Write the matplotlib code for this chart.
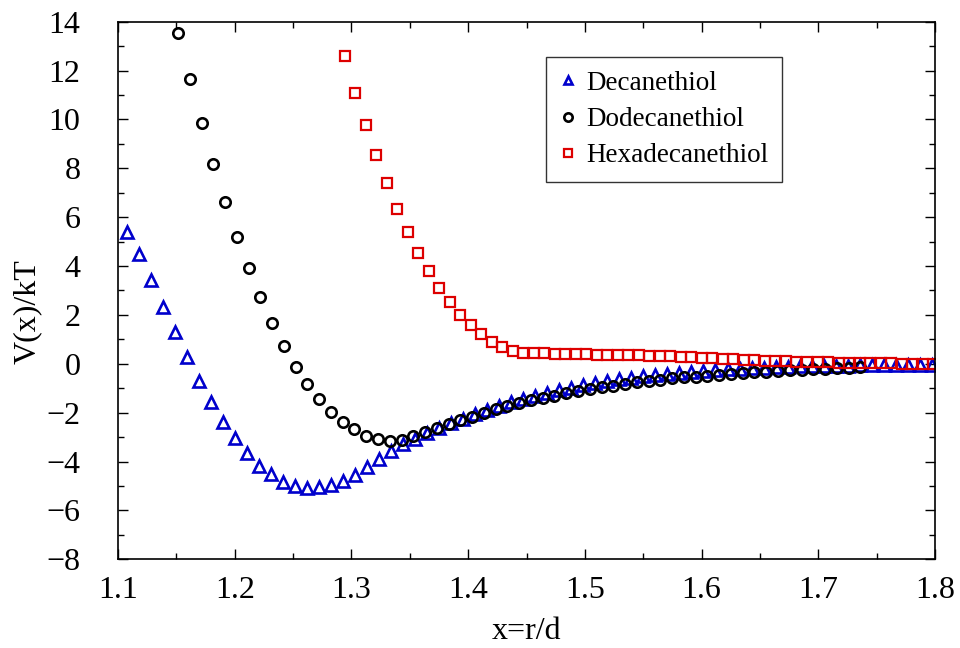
import numpy as np
import matplotlib
matplotlib.use("Agg")
import matplotlib.pyplot as plt
from matplotlib.ticker import MultipleLocator

# x = r/d sampling grid of each series (start, step)
deca_x0, deca_dx = 1.1077, 0.01029
dodeca_x0, dodeca_dx = 1.1514, 0.01008
hexa_x0, hexa_dx = 1.2943, 0.0090

# V(x)/kT
deca_v = [5.38, 4.49, 3.45, 2.34, 1.29, 0.27, -0.70, -1.58, -2.37, -3.05,
          -3.66, -4.17, -4.52, -4.82, -4.99, -5.09, -5.05, -4.96, -4.78, -4.55,
          -4.21, -3.91, -3.55, -3.30, -3.06, -2.84, -2.63, -2.43, -2.24, -2.06,
          -1.89, -1.73, -1.58, -1.44, -1.31, -1.19, -1.08, -0.98, -0.88, -0.79,
          -0.71, -0.64, -0.57, -0.51, -0.46, -0.41, -0.36, -0.32, -0.29, -0.26,
          -0.23, -0.20, -0.18, -0.16, -0.14, -0.12, -0.11, -0.10, -0.09, -0.08,
          -0.07, -0.06, -0.05, -0.05, -0.04, -0.04, -0.03, -0.03]

dodeca_v = [13.55, 11.65, 9.84, 8.19, 6.63, 5.20, 3.91, 2.75, 1.68, 0.74,
            -0.12, -0.83, -1.44, -1.96, -2.39, -2.68, -2.94, -3.09, -3.15, -3.10,
            -2.96, -2.80, -2.64, -2.48, -2.32, -2.16, -2.01, -1.87, -1.74, -1.61,
            -1.50, -1.40, -1.30, -1.21, -1.12, -1.04, -0.96, -0.89, -0.82, -0.76,
            -0.70, -0.65, -0.60, -0.56, -0.52, -0.48, -0.44, -0.41, -0.38, -0.35,
            -0.32, -0.30, -0.27, -0.25, -0.23, -0.21, -0.19, -0.17, -0.15]

hexa_v = [12.59, 11.09, 9.77, 8.53, 7.39, 6.32, 5.41, 4.52, 3.81, 3.09,
          2.54, 2.00, 1.59, 1.22, 0.90, 0.70, 0.54, 0.45, 0.45, 0.43,
          0.42, 0.41, 0.40, 0.39, 0.38, 0.37, 0.36, 0.35, 0.34, 0.33,
          0.31, 0.30, 0.28, 0.26, 0.24, 0.22, 0.20, 0.18, 0.16, 0.14,
          0.13, 0.12, 0.10, 0.09, 0.08, 0.07, 0.06, 0.05, 0.04, 0.03,
          0.03, 0.02, 0.02, 0.01, 0.01, 0.01, 0.00]

deca_x = deca_x0 + deca_dx * np.arange(len(deca_v))
dodeca_x = dodeca_x0 + dodeca_dx * np.arange(len(dodeca_v))
hexa_x = hexa_x0 + hexa_dx * np.arange(len(hexa_v))

plt.rcParams["font.family"] = ["Liberation Serif", "DejaVu Serif"]

fig = plt.figure(figsize=(9.6, 6.48), dpi=100)
ax = fig.add_axes([0.1229, 0.1369, 0.8511, 0.8296])

ax.plot(deca_x, deca_v, linestyle="none", marker="^", markersize=8,
        markerfacecolor="none", markeredgecolor="#0000cc", markeredgewidth=1.9,
        label="Decanethiol")
ax.plot(dodeca_x, dodeca_v, linestyle="none", marker="o", markersize=7.5,
        markerfacecolor="none", markeredgecolor="black", markeredgewidth=1.9,
        label="Dodecanethiol")
ax.plot(hexa_x, hexa_v, linestyle="none", marker="s", markersize=6.5,
        markerfacecolor="none", markeredgecolor="#dd0000", markeredgewidth=1.6,
        label="Hexadecanethiol")

ax.set_xlim(1.1, 1.8)
ax.set_ylim(-8, 14)
ax.xaxis.set_major_locator(MultipleLocator(0.1))
ax.xaxis.set_minor_locator(MultipleLocator(0.05))
ax.yaxis.set_major_locator(MultipleLocator(2))
ax.yaxis.set_minor_locator(MultipleLocator(1))
ax.tick_params(which="both", direction="in", top=True, right=True, width=1.0)
ax.tick_params(which="major", length=7, labelsize=23)
ax.tick_params(axis="x", which="major", pad=12)
ax.tick_params(axis="y", which="major", pad=27)
ax.tick_params(which="minor", length=4)
for s in ax.spines.values():
    s.set_linewidth(1.2)

ax.set_xlabel("x=r/d", fontsize=23)
ax.xaxis.set_label_coords(0.5, -0.108)
ax.set_ylabel("V(x)/kT", fontsize=23)
ax.yaxis.set_label_coords(-0.093, 0.46)

leg = ax.legend(loc="upper left", bbox_to_anchor=(0.524, 0.934), fontsize=19.5,
                frameon=True, fancybox=False, edgecolor="black",
                markerscale=0.8, handlelength=0.6, handletextpad=0.4,
                borderpad=0.5, labelspacing=0.42, borderaxespad=0)
leg.get_frame().set_linewidth(1.0)

fig.savefig("out.png", dpi=100)
